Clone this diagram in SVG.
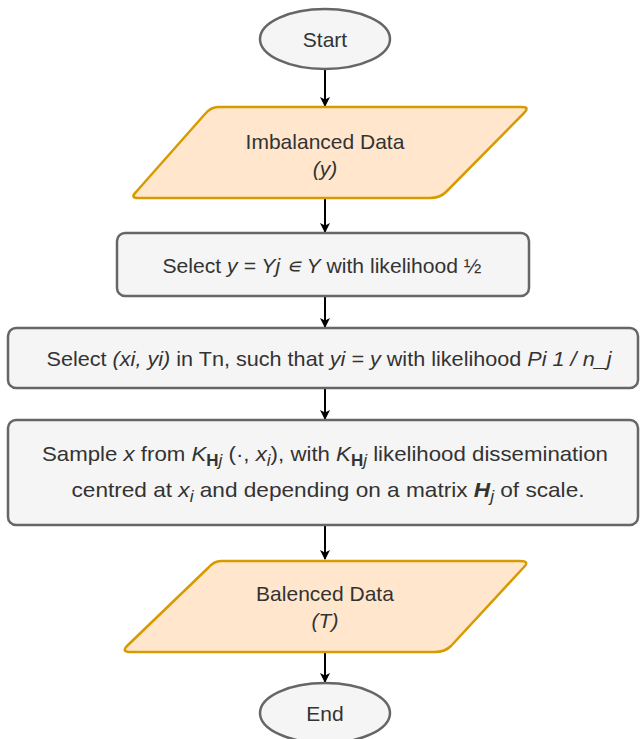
<svg xmlns="http://www.w3.org/2000/svg" width="640" height="739" viewBox="0 0 640 739">
<defs>
<marker id="arr" viewBox="0 0 10 10" refX="9" refY="5" markerWidth="5" markerHeight="5" orient="auto" markerUnits="strokeWidth">
<path d="M0,0 L10,5 L0,10 L2.5,5 Z" fill="#000"/>
</marker>
<style>
.term{fill:#f5f5f5;stroke:#666;stroke-width:2.5}
.proc{fill:#f5f5f5;stroke:#666;stroke-width:2.5}
.io{fill:#ffe6cc;stroke:#d79b00;stroke-width:2.5;stroke-linejoin:round}
.t{font-family:"Liberation Sans",Arial,sans-serif;font-size:21px;fill:#333;text-anchor:middle}
.i{font-style:italic}
.b{font-weight:bold}
.sub{font-size:16px}
.conn line{stroke:#000;stroke-width:2;marker-end:url(#arr)}
</style>
</defs>
<g class="conn" id="connectors">
<line x1="325" y1="69" x2="325" y2="106"/>
<line x1="325" y1="199" x2="325" y2="232"/>
<line x1="325" y1="297" x2="325" y2="327"/>
<line x1="325" y1="389" x2="325" y2="419"/>
<line x1="325" y1="525" x2="325" y2="559"/>
<line x1="325" y1="653" x2="325" y2="682"/>
</g>
<g id="start">
<ellipse class="term" cx="325" cy="39" rx="65" ry="30"/>
<text class="t" x="325" y="47">Start</text>
</g>
<g id="imbalanced">
<path class="io" d="M218,107 L522,107 Q530,107 524,113 L446,192 Q440,198 430,198 L138,198 Q130,198 136,192 L205,114 Q211,107 218,107 Z"/>
<text class="t" x="325" y="149">Imbalanced Data</text>
<text class="t i" x="325" y="176">(y)</text>
</g>
<g id="select-y">
<rect class="proc" x="117" y="233" width="412" height="63" rx="8"/>
<text class="t" x="322" y="273" textLength="319" lengthAdjust="spacingAndGlyphs">Select <tspan class="i">y = Yj ∊ Y</tspan> with likelihood ½</text>
</g>
<g id="select-xi">
<rect class="proc" x="8" y="328" width="630" height="60" rx="8"/>
<text class="t" x="329" y="366" textLength="565" lengthAdjust="spacingAndGlyphs">Select <tspan class="i">(xi, yi)</tspan> in Tn, such that <tspan class="i">yi = y</tspan> with likelihood <tspan class="i">Pi 1 / n_j</tspan></text>
</g>
<g id="sample">
<rect class="proc" x="8" y="420" width="630" height="105" rx="8"/>
<text class="t" x="325" y="461" textLength="566" lengthAdjust="spacingAndGlyphs">Sample <tspan class="i">x</tspan> from <tspan class="i">K</tspan><tspan class="sub b" dy="5">H</tspan><tspan class="sub i">j</tspan><tspan dy="-5"> (·, </tspan><tspan class="i">x</tspan><tspan class="sub i" dy="5">i</tspan><tspan dy="-5">), with </tspan><tspan class="i">K</tspan><tspan class="sub b" dy="5">H</tspan><tspan class="sub i">j</tspan><tspan dy="-5"> likelihood dissemination</tspan></text>
<text class="t" x="328" y="497" textLength="513" lengthAdjust="spacingAndGlyphs">centred at <tspan class="i">x</tspan><tspan class="sub i" dy="5">i</tspan><tspan dy="-5"> and depending on a matrix </tspan><tspan class="i b">H</tspan><tspan class="sub i" dy="5">j</tspan><tspan dy="-5"> of scale.</tspan></text>
</g>
<g id="balanced">
<path class="io" d="M221,561 L520,561 Q530,561 524,567 L451,646 Q445,652 435,652 L131,652 Q121,652 127,646 L208,568 Q214,561 221,561 Z"/>
<text class="t" x="325" y="601">Balenced Data</text>
<text class="t i" x="325" y="628">(T)</text>
</g>
<g id="end">
<ellipse class="term" cx="325" cy="713" rx="65" ry="30"/>
<text class="t" x="325" y="721">End</text>
</g>
</svg>
